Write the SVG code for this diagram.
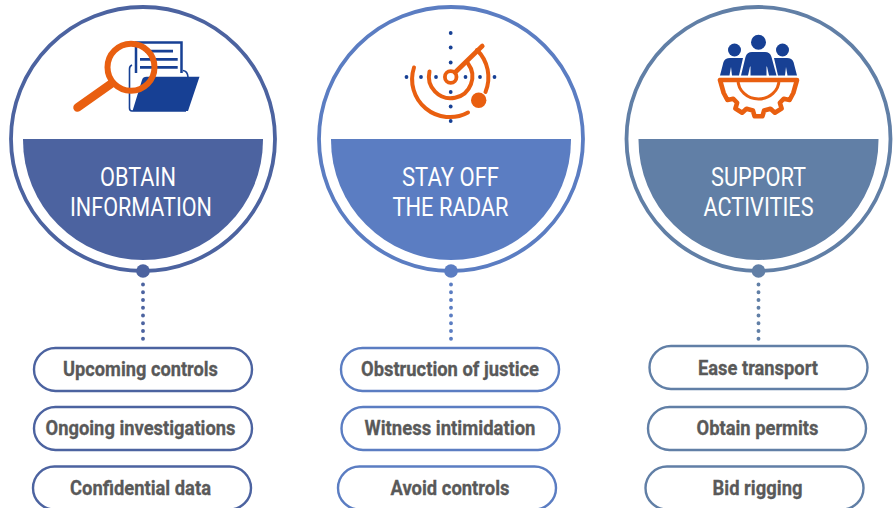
<svg xmlns="http://www.w3.org/2000/svg" width="896" height="508" viewBox="0 0 896 508">
<style>
.ring{fill:#fff;stroke-width:3.800}
.pill{fill:#fff;stroke-width:2.400}
.t{font-family:Roboto,"Liberation Sans",sans-serif;font-size:25px;fill:#fff;text-anchor:middle}
.p{font-family:Roboto,"Liberation Sans",sans-serif;font-size:21px;font-weight:700;fill:#595959;stroke:#595959;stroke-width:.3;text-anchor:middle}
.dots{fill:none;stroke-width:3.900;stroke-linecap:round;stroke-dasharray:0 7.750}
.o{fill:none;stroke:#e95f10;stroke-linecap:round}
.b{fill:#174094}
</style>
<g id="connectors">
<path class="dots" stroke="#4c63a0" d="M143 284.500V339"/>
<path class="dots" stroke="#5b7dc2" d="M451 284.500V339"/>
<path class="dots" stroke="#617fa6" d="M758.500 284.500V339"/>
</g>
<g id="node-obtain">
<circle class="ring" stroke="#4c63a0" cx="143" cy="139" r="132"/>
<path fill="#4c63a0" d="M23 139H263V140A120 120 0 0 1 23 140Z"/>
<circle cx="143" cy="271" r="6.800" fill="#4c63a0"/>
<text class="t" textLength="76" lengthAdjust="spacingAndGlyphs" x="138" y="186">OBTAIN</text>
<text class="t" textLength="142" lengthAdjust="spacingAndGlyphs" x="141" y="216">INFORMATION</text>
<g id="icon-search">
<path fill="none" stroke="#174094" stroke-width="2.500" d="M136 73V42.500H181.500V73"/>
<path class="b" d="M145 49.700h28v2.700h-28zM140 58h37.700v2.700h-37.700zM140 66h37.700v2.700h-37.700z"/>
<path fill="none" stroke="#174094" stroke-width="1.600" d="M132 65Q129.500 66 129.500 69V108Q129.500 111 132 111H186M183 70.500Q187.500 71 188 77"/>
<path class="b" d="M132.500 111L142 80Q143 76.700 146.500 76.700H199.500L188 111Z"/>
<circle cx="131" cy="67.300" r="23.500" fill="none" stroke="#e95f10" stroke-width="6"/>
<path class="o" stroke-width="8.500" d="M111.500 83.500L77.500 107.500"/>
</g>
</g>
<g id="node-radar">
<circle class="ring" stroke="#5b7dc2" cx="451" cy="139" r="132"/>
<path fill="#5b7dc2" d="M331 139H571V140A120 120 0 0 1 331 140Z"/>
<circle cx="451" cy="271" r="6.800" fill="#5b7dc2"/>
<text class="t" textLength="97" lengthAdjust="spacingAndGlyphs" x="450.500" y="186">STAY OFF</text>
<text class="t" textLength="116" lengthAdjust="spacingAndGlyphs" x="450.500" y="216">THE RADAR</text>
<g id="icon-radar">
<g fill="#174094">
<circle cx="450.700" cy="33" r="1.900"/><circle cx="450.700" cy="47.500" r="1.900"/><circle cx="450.700" cy="62.500" r="1.900"/>
<circle cx="450.700" cy="92" r="1.900"/><circle cx="450.700" cy="106.500" r="1.900"/><circle cx="450.700" cy="121" r="1.900"/>
<circle cx="406.500" cy="77" r="1.900"/><circle cx="421" cy="77" r="1.900"/><circle cx="436" cy="77" r="1.900"/>
<circle cx="465.500" cy="77" r="1.900"/><circle cx="480" cy="77" r="1.900"/><circle cx="494.500" cy="77" r="1.900"/>
</g>
<circle cx="450.700" cy="77" r="5.800" fill="none" stroke="#e95f10" stroke-width="3.800"/>
<path class="o" stroke-width="4.600" d="M455 72.500L482.300 46"/>
<path class="o" stroke-width="4" d="M429.500 71.500A21.700 21.700 0 1 0 468 63.500"/>
<path class="o" stroke-width="4" d="M414 67.500A37.800 37.800 0 0 0 468 112.500"/>
<path class="o" stroke-width="4" d="M477 50A38.500 38.500 0 0 1 485.500 92"/>
<circle cx="478.700" cy="100.300" r="7.700" fill="#e95f10"/>
</g>
</g>
<g id="node-support">
<circle class="ring" stroke="#617fa6" cx="758.500" cy="139" r="132"/>
<path fill="#617fa6" d="M638.500 139H878.500V140A120 120 0 0 1 638.500 140Z"/>
<circle cx="758.500" cy="271" r="6.800" fill="#617fa6"/>
<text class="t" textLength="95" lengthAdjust="spacingAndGlyphs" x="758.500" y="186">SUPPORT</text>
<text class="t" textLength="110" lengthAdjust="spacingAndGlyphs" x="758.500" y="216">ACTIVITIES</text>
<g id="icon-team">
<g class="b">
<circle cx="758.500" cy="42.300" r="7.500"/><circle cx="734.500" cy="50" r="6.500"/><circle cx="782.500" cy="50" r="6.500"/>
<path d="M741 75.500L745.500 57Q747 52 752 52H765Q770 52 771.500 57L776.500 75.500H769L767 66.500H766.500V75.500H750.500V66.500H750L748 75.500Z"/>
<path d="M720 75.500L723.500 62Q725 58 730 58H743L739 75.500H732L731 67L729.500 75.500Z"/>
<path d="M797 75.500L793.500 62Q792 58 787 58H774L778 75.500H785L786 67L787.500 75.500Z"/>
</g>
<path fill="none" stroke="#e95f10" stroke-width="4.600" stroke-linejoin="round" d="M720 80H797L793.300 93L789.600 100L783.700 98.700L779.900 102.800L781.600 108.500L774.900 112.700L770.500 108.700L764.100 110.500L762.400 116.300H754.600L752.900 110.500L746.500 108.700L742.100 112.700L735.400 108.500L737.100 102.800L733.300 98.700L727.400 100L723.700 93Z"/>
<path fill="none" stroke="#e95f10" stroke-width="3" d="M738 80A20.500 19 0 0 0 779 80"/>
</g>
</g>
<g id="pill-1"><rect class="pill" stroke="#4c63a0" x="34" y="348" width="218" height="43" rx="21.500"/><text class="p" textLength="155" lengthAdjust="spacingAndGlyphs" x="140.500" y="376">Upcoming controls</text></g>
<g id="pill-2"><rect class="pill" stroke="#4c63a0" x="34" y="407" width="218" height="43" rx="21.500"/><text class="p" textLength="190" lengthAdjust="spacingAndGlyphs" x="140.500" y="435">Ongoing investigations</text></g>
<g id="pill-3"><rect class="pill" stroke="#4c63a0" x="33" y="466.500" width="218" height="43" rx="21.500"/><text class="p" textLength="141" lengthAdjust="spacingAndGlyphs" x="140.500" y="495">Confidential data</text></g>
<g id="pill-4"><rect class="pill" stroke="#5b7dc2" x="341" y="348" width="218" height="43" rx="21.500"/><text class="p" textLength="178" lengthAdjust="spacingAndGlyphs" x="450" y="376">Obstruction of justice</text></g>
<g id="pill-5"><rect class="pill" stroke="#5b7dc2" x="341.500" y="407" width="218" height="43" rx="21.500"/><text class="p" textLength="171" lengthAdjust="spacingAndGlyphs" x="450" y="435">Witness intimidation</text></g>
<g id="pill-6"><rect class="pill" stroke="#5b7dc2" x="338" y="466.500" width="218" height="43" rx="21.500"/><text class="p" textLength="119" lengthAdjust="spacingAndGlyphs" x="450" y="495">Avoid controls</text></g>
<g id="pill-7"><rect class="pill" stroke="#617fa6" x="649.500" y="346" width="218" height="43" rx="21.500"/><text class="p" textLength="120" lengthAdjust="spacingAndGlyphs" x="758" y="375">Ease transport</text></g>
<g id="pill-8"><rect class="pill" stroke="#617fa6" x="648" y="407" width="218" height="43" rx="21.500"/><text class="p" textLength="122" lengthAdjust="spacingAndGlyphs" x="757.500" y="435">Obtain permits</text></g>
<g id="pill-9"><rect class="pill" stroke="#617fa6" x="645.500" y="466.500" width="218" height="43" rx="21.500"/><text class="p" textLength="90" lengthAdjust="spacingAndGlyphs" x="757.500" y="495">Bid rigging</text></g>
</svg>
